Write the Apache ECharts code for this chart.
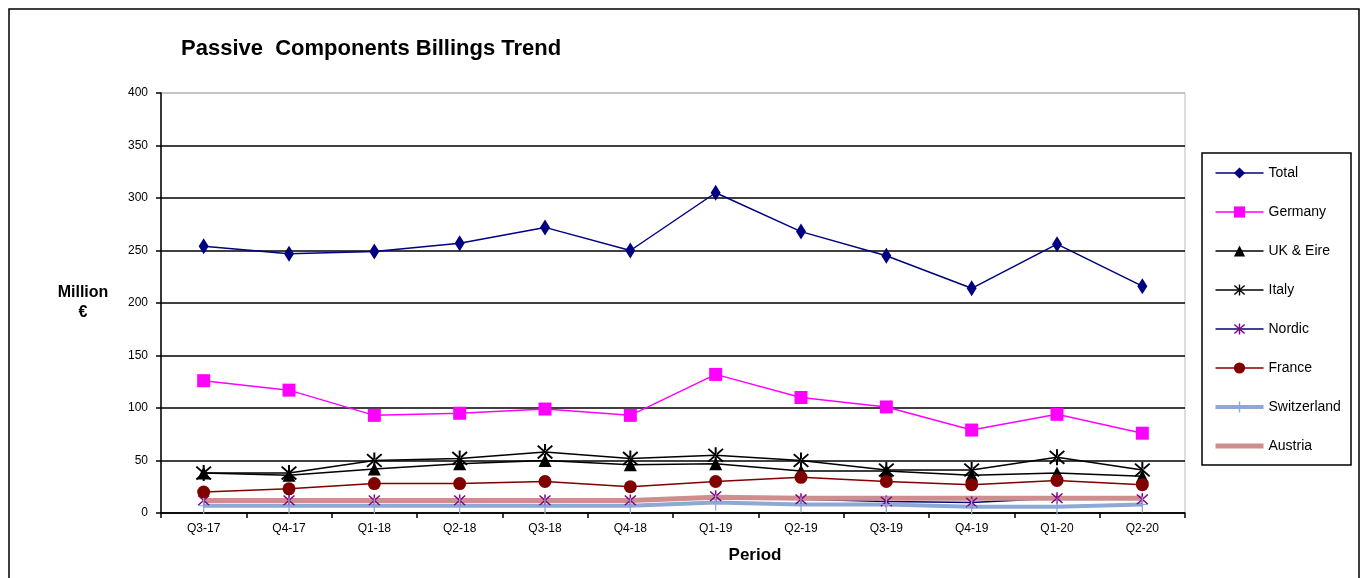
<!DOCTYPE html>
<html>
<head>
<meta charset="utf-8">
<script src="https://cdn.jsdelivr.net/npm/echarts@6/dist/echarts.min.js"></script>
<style>
  html, body { margin: 0; padding: 0; background: #fff; }
  #billingsChart { width: 1363px; height: 578px; }
</style>
</head>
<body>
<div id="billingsChart"></div>
<script>
  // quarters on the x axis
  var periods = ['Q3-17', 'Q4-17', 'Q1-18', 'Q2-18', 'Q3-18', 'Q4-18', 'Q1-19', 'Q2-19', 'Q3-19', 'Q4-19', 'Q1-20', 'Q2-20'];

  // billings, million €
  var total       = [254, 247, 249, 257, 272, 250, 305, 268, 245, 214, 256, 216];
  var germany     = [126, 117, 93, 95, 99, 93, 132, 110, 101, 79, 94, 76];
  var ukEire      = [38, 36, 42, 47, 50, 46, 47, 40, 40, 36, 38, 35];
  var italy       = [38, 38, 50, 52, 58, 52, 55, 50, 41, 41, 53, 41];
  var nordic      = [12, 12, 12, 12, 12, 12, 16, 13, 11, 10, 14, 13];
  var france      = [20, 23, 28, 28, 30, 25, 30, 34, 30, 27, 31, 27];
  var switzerland = [7, 7, 7, 7, 7, 7, 10, 8, 8, 6, 6, 8];
  var austria     = [12, 12, 12, 12, 12, 12, 15, 14, 14, 14, 14, 14];

  var yTicks = [0, 400, 50];

  var FONT = '"Liberation Sans", Arial, sans-serif';
  var asterisk = 'path://M4.4,0h1.2v10h-1.2z M0.2,1.4L1,0.6L9.8,8.6L9,9.4z M9.8,1.4L9,0.6L0.2,8.6L1,9.4z';
  var plusTick = 'path://M4.5,0h1v16h-1z M1,7.5h8v1h-8z';

  var myChart = echarts.init(document.getElementById('billingsChart'));

  function lineSeries(name, data, color, lineColor, symbol, size, width) {
    return {
      name: name,
      type: 'line',
      data: data,
      symbol: symbol,
      symbolSize: size,
      showSymbol: symbol !== 'none',
      itemStyle: { color: color },
      lineStyle: { color: lineColor || color, width: width || 1.5 },
      emphasis: { disabled: true },
      animation: false
    };
  }

  myChart.setOption({
    backgroundColor: '#fff',
    textStyle: { fontFamily: FONT },
    title: {
      text: 'Passive  Components Billings Trend',
      left: 176,
      top: 33,
      textStyle: { fontSize: 22, fontWeight: 'bold', color: '#000', fontFamily: FONT }
    },
    graphic: [
      {
        type: 'rect',
        shape: { x: 9, y: 9, width: 1350, height: 600 },
        style: { fill: null, stroke: '#000', lineWidth: 1.5 },
        silent: true
      },
      {
        type: 'rect',
        shape: { x: 1202, y: 153, width: 149, height: 312 },
        style: { fill: null, stroke: '#000', lineWidth: 1.5 },
        silent: true
      }
    ],
    legend: {
      orient: 'vertical',
      left: 1202,
      top: 166,
      padding: [0, 0, 0, 11],
      itemWidth: 48,
      itemHeight: 14,
      itemGap: 25,
      textStyle: { fontSize: 14, color: '#000', fontFamily: FONT },
      selectedMode: false,
      data: [
        { name: 'Total', lineStyle: { width: 1.5 } },
        { name: 'Germany', lineStyle: { width: 1.5 } },
        { name: 'UK & Eire', lineStyle: { width: 1.5 } },
        { name: 'Italy', lineStyle: { width: 1.5 } },
        { name: 'Nordic', lineStyle: { width: 1.5 } },
        { name: 'France', lineStyle: { width: 1.5 } },
        { name: 'Switzerland', lineStyle: { width: 4 } },
        { name: 'Austria', lineStyle: { width: 5 }, itemStyle: { opacity: 0 } }
      ]
    },
    grid: {
      left: 161,
      right: 178,
      top: 93,
      bottom: 65,
      show: true,
      borderColor: '#bbb',
      borderWidth: 1
    },
    xAxis: {
      type: 'category',
      data: periods,
      name: 'Period',
      nameLocation: 'middle',
      nameGap: 34,
      nameTextStyle: { fontSize: 17, fontWeight: 'bold', color: '#000', padding: [0, 0, 0, 164] },
      axisLine: { lineStyle: { color: '#000', width: 1.5 } },
      axisTick: { show: true, length: 5, lineStyle: { color: '#000', width: 1.5 } },
      axisLabel: { color: '#000', fontSize: 12, margin: 10 }
    },
    yAxis: {
      type: 'value',
      min: yTicks[0],
      max: yTicks[1],
      interval: yTicks[2],
      name: 'Million\n€',
      nameLocation: 'middle',
      nameRotate: 0,
      nameGap: 78,
      nameTextStyle: { fontSize: 16, fontWeight: 'bold', color: '#000', align: 'center', lineHeight: 20 },
      axisLine: { show: true, lineStyle: { color: '#000', width: 1.5 } },
      axisTick: { show: true, length: 5, lineStyle: { color: '#000', width: 1.5 } },
      axisLabel: { color: '#000', fontSize: 12, margin: 13 },
      splitLine: {
        show: true,
        lineStyle: { color: ['#000', '#000', '#000', '#000', '#000', '#000', '#000', '#000', '#bbb'], width: 1.5 }
      }
    },
    series: [
      lineSeries('Total', total, '#000080', null, 'diamond', [10, 16]),
      lineSeries('Germany', germany, '#ff00ff', null, 'rect', 13),
      lineSeries('UK & Eire', ukEire, '#000', null, 'triangle', 13),
      lineSeries('Italy', italy, '#000', null, asterisk, 16),
      lineSeries('Nordic', nordic, '#800080', '#000080', asterisk, 12),
      lineSeries('France', france, '#800000', null, 'circle', 13),
      lineSeries('Switzerland', switzerland, '#8ea8d4', null, plusTick, [10, 16], 4),
      lineSeries('Austria', austria, '#cf8e8e', null, 'none', 1, 5)
    ]
  });

  window.addEventListener('resize', function () {
    myChart.resize();
  });
</script>
</body>
</html>
